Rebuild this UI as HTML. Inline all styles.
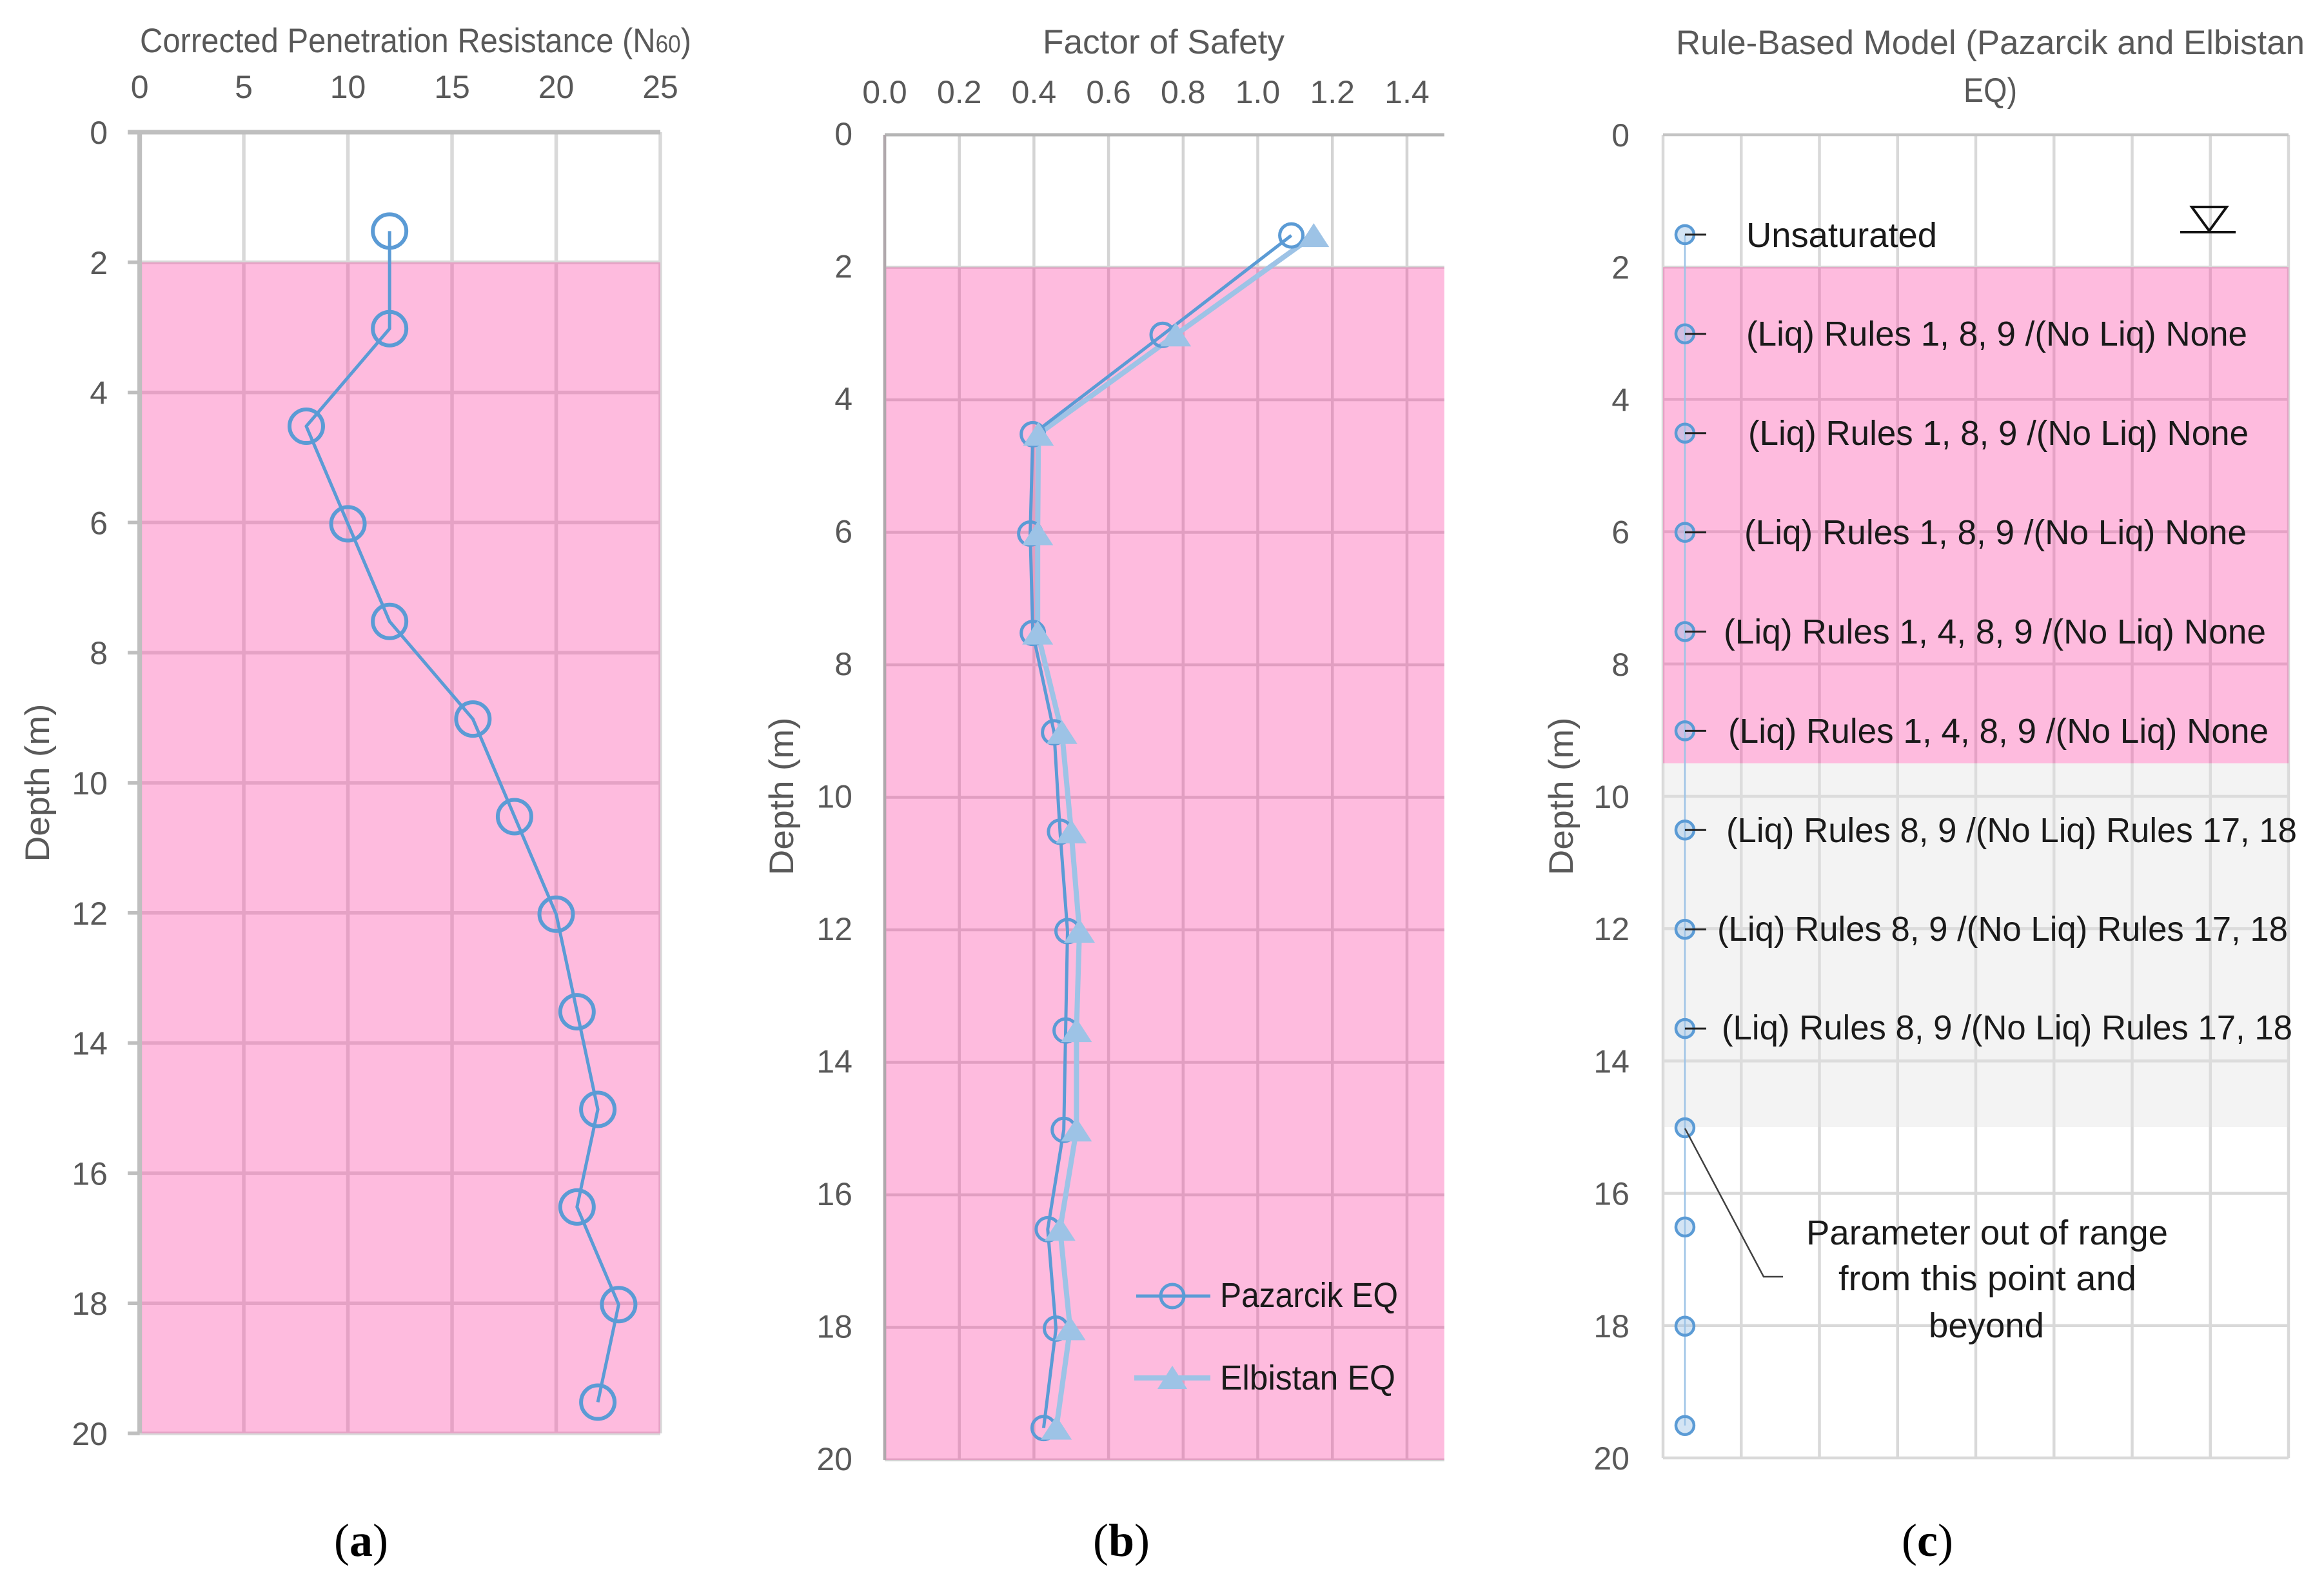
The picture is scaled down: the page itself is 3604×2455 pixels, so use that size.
<!DOCTYPE html>
<html lang="en">
<head>
<meta charset="utf-8">
<title>Depth profiles: penetration resistance, factor of safety, rule-based model</title>
<style>
html,body{margin:0;padding:0;background:#fff;width:3604px;height:2455px;overflow:hidden}
svg{display:block}
text{font-family:"Liberation Sans",sans-serif}
.axis{fill:#595959;font-size:50px}
.title{fill:#595959;font-size:53px}
.note{fill:#1a1a1a;font-size:54px}
.cap{fill:#000;font-family:"Liberation Serif",serif;font-size:72px;text-anchor:middle}
.cap tspan{font-weight:bold}
</style>
</head>
<body>
<svg id="figure" xmlns="http://www.w3.org/2000/svg" width="3604" height="2455" viewBox="0 0 3604 2455">
  <rect x="0" y="0" width="3604" height="2455" fill="#ffffff"/>
  <g id="panelA"></g>
  <g id="panelB"></g>
  <g id="panelC"></g>

  <!-- titles -->
  <text class="title" x="217" y="81" textLength="855" lengthAdjust="spacingAndGlyphs">Corrected Penetration Resistance (N<tspan font-size="38">60</tspan>)</text>
  <text class="title" x="1617" y="83" textLength="375" lengthAdjust="spacingAndGlyphs">Factor of Safety</text>
  <text class="title" x="2599" y="84" textLength="975" lengthAdjust="spacingAndGlyphs">Rule-Based Model (Pazarcik and Elbistan</text>
  <text class="title" x="3045" y="158" textLength="83" lengthAdjust="spacingAndGlyphs">EQ)</text>

  <!-- y-axis titles -->
  <text class="title" transform="translate(76 1214) rotate(-90)" text-anchor="middle" textLength="245" lengthAdjust="spacingAndGlyphs">Depth (m)</text>
  <text class="title" transform="translate(1230 1235) rotate(-90)" text-anchor="middle" textLength="245" lengthAdjust="spacingAndGlyphs">Depth (m)</text>
  <text class="title" transform="translate(2439 1235) rotate(-90)" text-anchor="middle" textLength="245" lengthAdjust="spacingAndGlyphs">Depth (m)</text>

  <!-- panel c rule labels -->
  <text class="note" x="2708" y="383" textLength="296" lengthAdjust="spacingAndGlyphs">Unsaturated</text>
  <text class="note" x="2708" y="536" textLength="777" lengthAdjust="spacingAndGlyphs">(Liq) Rules 1, 8, 9 /(No Liq) None</text>
  <text class="note" x="2711" y="690" textLength="776" lengthAdjust="spacingAndGlyphs">(Liq) Rules 1, 8, 9 /(No Liq) None</text>
  <text class="note" x="2705" y="844" textLength="779" lengthAdjust="spacingAndGlyphs">(Liq) Rules 1, 8, 9 /(No Liq) None</text>
  <text class="note" x="2673" y="998" textLength="841" lengthAdjust="spacingAndGlyphs">(Liq) Rules 1, 4, 8, 9 /(No Liq) None</text>
  <text class="note" x="2680" y="1152" textLength="838" lengthAdjust="spacingAndGlyphs">(Liq) Rules 1, 4, 8, 9 /(No Liq) None</text>
  <text class="note" x="2677" y="1306" textLength="885" lengthAdjust="spacingAndGlyphs">(Liq) Rules 8, 9 /(No Liq) Rules 17, 18</text>
  <text class="note" x="2663" y="1459" textLength="885" lengthAdjust="spacingAndGlyphs">(Liq) Rules 8, 9 /(No Liq) Rules 17, 18</text>
  <text class="note" x="2670" y="1612" textLength="885" lengthAdjust="spacingAndGlyphs">(Liq) Rules 8, 9 /(No Liq) Rules 17, 18</text>

  <!-- water table symbol -->
  <g fill="none" stroke="#111" stroke-width="4">
    <path d="M3399 321 L3453 321 L3426 358 Z"/>
    <line x1="3381" y1="360" x2="3467" y2="360"/>
  </g>

  <!-- out of range annotation -->
  <path d="M2613 1750 L2735 1980 L2765 1980" fill="none" stroke="#404040" stroke-width="2.5"/>
  <text class="note" x="2801" y="1930" textLength="561" lengthAdjust="spacingAndGlyphs">Parameter out of range</text>
  <text class="note" x="2851" y="2001" textLength="462" lengthAdjust="spacingAndGlyphs">from this point and</text>
  <text class="note" x="2991" y="2074" textLength="179" lengthAdjust="spacingAndGlyphs">beyond</text>

  <!-- legend -->
  <g>
    <g>
      <line x1="1762" y1="2010" x2="1877" y2="2010" stroke="#5b9bd5" stroke-width="5"/>
      <circle cx="1818" cy="2010" r="18" fill="none" stroke="#5b9bd5" stroke-width="5"/>
      <text class="note" x="1892" y="2027" textLength="276" lengthAdjust="spacingAndGlyphs">Pazarcik EQ</text>
    </g>
    <g>
      <line x1="1759" y1="2137" x2="1877" y2="2137" stroke="#9dc3e6" stroke-width="8"/>
      <path d="M1818 2118 L1841 2154 L1795 2154 Z" fill="#9dc3e6"/>
      <text class="note" x="1892" y="2155" textLength="272" lengthAdjust="spacingAndGlyphs">Elbistan EQ</text>
    </g>
  </g>

  <!-- sub-figure captions -->
  <text class="cap" x="560" y="2413">(<tspan>a</tspan>)</text>
  <text class="cap" x="1739" y="2413">(<tspan>b</tspan>)</text>
  <text class="cap" x="2989" y="2413">(<tspan>c</tspan>)</text>
</svg>

<script>
// ---- chart data ----
const depths = [1.5, 3, 4.5, 6, 7.5, 9, 10.5, 12, 13.5, 15, 16.5, 18, 19.5];
const n60Values = [12, 12, 8, 10, 12, 16, 18, 20, 21, 22, 21, 23, 22];
const fsPazarcik = [1.09, 0.745, 0.397, 0.39, 0.397, 0.454, 0.47, 0.49, 0.485, 0.48, 0.437, 0.459, 0.426];
const fsElbistan = [1.15, 0.78, 0.412, 0.41, 0.41, 0.475, 0.5, 0.522, 0.514, 0.514, 0.47, 0.497, 0.46];
const ruleValues = [0.28, 0.28, 0.28, 0.28, 0.28, 0.28, 0.28, 0.28, 0.28, 0.28, 0.28, 0.28, 0.28];
const depthTicks = [0, 2, 4, 6, 8, 10, 12, 14, 16, 18, 20];
const n60Ticks = [0, 5, 10, 15, 20, 25];
const fsTicks = [0, 0.2, 0.4, 0.6, 0.8, 1.0, 1.2, 1.4];
const fsTickLabels = ['0.0', '0.2', '0.4', '0.6', '0.8', '1.0', '1.2', '1.4'];
const ruleGridTicks = [0, 1, 2, 3, 4, 5, 6, 7, 8];
const liquefiableDepthA = [2, 20];
const liquefiableDepthB = [2, 20];
const liquefiableDepthC = [2, 9.5];
const marginalDepthC = [9.5, 15];

// ---- axis functions ----
const xA = v => 216.6 + v * (1024 - 216.6) / 25;
const yA = d => 205 + d * (2223 - 205) / 20;
const xB = v => 1372 + v * 578.5;
const yB = d => 209 + d * (2264 - 209) / 20;
const xC = v => 2579 + v * 121.25;
const yC = d => 209 + d * (2261 - 209) / 20;
const markerShift = 2;

const NS = 'http://www.w3.org/2000/svg';
const BLUE = '#5b9bd5';
const LIGHT = '#9dc3e6';

function make(parent, tag, attrs) {
  const el = document.createElementNS(NS, tag);
  for (const k in attrs) el.setAttribute(k, attrs[k]);
  parent.appendChild(el);
  return el;
}
function pinkBand(parent, x0, x1, y0, y1) {
  return make(parent, 'rect', {x: x0, y: y0, width: x1 - x0, height: y1 - y0, fill: 'rgb(252,55,158)', 'fill-opacity': 0.34});
}
function greyBand(parent, x0, x1, y0, y1) {
  return make(parent, 'rect', {x: x0, y: y0, width: x1 - x0, height: y1 - y0, fill: 'rgb(225,225,225)', 'fill-opacity': 0.4});
}
function polyline(parent, xs, ys, color, width) {
  const pts = xs.map((x, i) => x + ',' + ys[i]).join(' ');
  return make(parent, 'polyline', {points: pts, fill: 'none', stroke: color, 'stroke-width': width, 'stroke-linejoin': 'round'});
}
function label(parent, x, y, str, anchor) {
  const el = make(parent, 'text', {x: x, y: y + 18, 'text-anchor': anchor, class: 'axis'});
  el.textContent = str;
  return el;
}

// ---- panel a ----
(function () {
  const g = document.getElementById('panelA');
  n60Ticks.forEach(t => {
    const l = make(g, 'line', {x1: xA(t), x2: xA(t), y1: yA(0), y2: yA(20), stroke: t === 0 ? '#bfbfbf' : '#d9d9d9', 'stroke-width': t === 0 ? 7 : 5.5});
    
    
    const tx = label(g, xA(t), 134, String(t), 'middle');
    
    
  });
  depthTicks.forEach(t => {
    const l = make(g, 'line', {x1: 198, x2: xA(25), y1: yA(t), y2: yA(t), stroke: t === 0 ? '#bfbfbf' : '#d9d9d9', 'stroke-width': t === 0 ? 7 : 5.5});
    
    
    const tx = label(g, 167, yA(t), String(t), 'end');
    
    
  });
  const b = pinkBand(g, xA(0), xA(25), yA(liquefiableDepthA[0]), yA(liquefiableDepthA[1]));
  
  
  const ticks = make(g, 'g', {});
  
  
  depthTicks.forEach(t => {
    const l = make(ticks, 'line', {x1: 198, x2: xA(0), y1: yA(t), y2: yA(t), stroke: '#bfbfbf', 'stroke-width': 5.5});
    
    
  });
  const ax = make(g, 'line', {x1: xA(0), x2: xA(0), y1: yA(0), y2: yA(20), stroke: '#bfbfbf', 'stroke-width': 7});
  
  
  const ln = polyline(g, n60Values.map(xA), depths.map(d => yA(d) + markerShift), BLUE, 5);
  
  
  n60Values.forEach((v, i) => {
    const c = make(g, 'circle', {cx: xA(v), cy: yA(depths[i]) + markerShift, r: 26, fill: 'none', stroke: BLUE, 'stroke-width': 6});
    
    
  });
})();

// ---- panel b ----
(function () {
  const g = document.getElementById('panelB');
  const xEnd = xB(1.5);
  fsTicks.forEach((t, i) => {
    const l = make(g, 'line', {x1: xB(t), x2: xB(t), y1: yB(0), y2: yB(20), stroke: t === 0 ? '#b5b5b5' : '#d4d4d4', 'stroke-width': 4.5});
    
    
    const tx = label(g, xB(t), 142, fsTickLabels[i], 'middle');
    
    
  });
  depthTicks.forEach(t => {
    const l = make(g, 'line', {x1: xB(0), x2: xEnd, y1: yB(t), y2: yB(t), stroke: t === 0 ? '#b5b5b5' : '#d4d4d4', 'stroke-width': t === 0 ? 5 : 4.5});
    
    
    const tx = label(g, 1322, yB(t) - 2, String(t), 'end');
    
    
  });
  const b = pinkBand(g, xB(0), xEnd, yB(liquefiableDepthB[0]), yB(liquefiableDepthB[1]));
  
  
  const ax = make(g, 'line', {x1: xB(0), x2: xB(0), y1: yB(0), y2: yB(20), stroke: '#b0a8ac', 'stroke-width': 4.5});
  
  

  const el = polyline(g, fsElbistan.map(xB), depths.map(d => yB(d) + markerShift), LIGHT, 8);
  
  
  const pz = polyline(g, fsPazarcik.map(xB), depths.map(d => yB(d) + markerShift), BLUE, 5);
  
  
  fsPazarcik.forEach((v, i) => {
    const c = make(g, 'circle', {cx: xB(v), cy: yB(depths[i]) + markerShift, r: 18, fill: 'none', stroke: BLUE, 'stroke-width': 5});
    
    
  });
  fsElbistan.forEach((v, i) => {
    const x = xB(v), y = yB(depths[i]) + markerShift;
    const t = make(g, 'path', {d: 'M' + x + ' ' + (y - 19) + ' L' + (x + 24) + ' ' + (y + 18) + ' L' + (x - 24) + ' ' + (y + 18) + ' Z', fill: LIGHT});
    
    
  });
})();

// ---- panel c ----
(function () {
  const g = document.getElementById('panelC');
  ruleGridTicks.forEach(t => {
    const l = make(g, 'line', {x1: xC(t), x2: xC(t), y1: yC(0), y2: yC(20), stroke: '#d9d9d9', 'stroke-width': 4.5});
    
    
  });
  depthTicks.forEach(t => {
    const l = make(g, 'line', {x1: xC(0), x2: xC(8), y1: yC(t), y2: yC(t), stroke: t === 0 ? '#c4c4c4' : '#d9d9d9', 'stroke-width': 4.5});
    
    
    const tx = label(g, 2527, yC(t), String(t), 'end');
    
    
  });
  const b1 = pinkBand(g, xC(0), xC(8), yC(liquefiableDepthC[0]), yC(liquefiableDepthC[1]));
  
  
  const b2 = greyBand(g, xC(0), xC(8), yC(marginalDepthC[0]), yC(marginalDepthC[1]));
  
  
  const ln = polyline(g, ruleValues.map(xC), depths.map(d => yC(d) + 1), LIGHT, 2.5);
  
  
  ruleValues.forEach((v, i) => {
    const c = make(g, 'circle', {cx: xC(v), cy: yC(depths[i]) + 1, r: 14, fill: LIGHT, 'fill-opacity': 0.45, stroke: BLUE, 'stroke-width': 4.5});
    
    
    if (i < 9) {
      const d = make(g, 'line', {x1: xC(v), x2: xC(v) + 33, y1: yC(depths[i]) + 1, y2: yC(depths[i]) + 1, stroke: '#222', 'stroke-width': 3});
      
      
    }
  });
})();
</script>
</body>
</html>
